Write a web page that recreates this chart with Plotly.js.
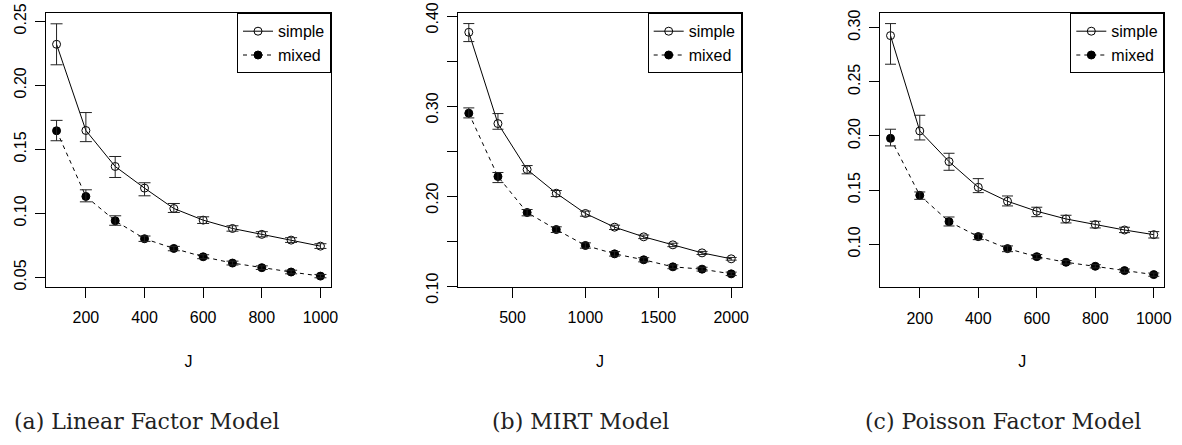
<!DOCTYPE html>
<html>
<head>
<meta charset="utf-8">
<script src="https://cdn.plot.ly/plotly-3.0.1.min.js"></script>
<style>html,body{margin:0;padding:0;background:#fff}#chart{width:1182px;height:445px}</style>
</head>
<body>
<div id="chart"></div>
<script>
// ---------- data ----------
const seriesNames = ["simple", "mixed"];
const captions = ["(a) Linear Factor Model", "(b) MIRT Model", "(c) Poisson Factor Model"];
const xLabel = "J";

const J_a = [100, 200, 300, 400, 500, 600, 700, 800, 900, 1000];
const simple_a = [0.232, 0.1647, 0.1366, 0.1197, 0.1038, 0.0947, 0.0882, 0.0836, 0.0791, 0.0744];
const simple_a_hi = [0.248, 0.1787, 0.1444, 0.1239, 0.1077, 0.0973, 0.0903, 0.0857, 0.081, 0.0763];
const simple_a_lo = [0.216, 0.156, 0.128, 0.1137, 0.1007, 0.0921, 0.0861, 0.0817, 0.0773, 0.0726];
const mixed_a = [0.1645, 0.1132, 0.0942, 0.0802, 0.0726, 0.0661, 0.0612, 0.0576, 0.0542, 0.051];
const mixed_a_hi = [0.1726, 0.1184, 0.0981, 0.0823, 0.0742, 0.0677, 0.0627, 0.059, 0.0556, 0.0523];
const mixed_a_lo = [0.1567, 0.109, 0.0907, 0.0781, 0.0708, 0.0646, 0.0597, 0.0562, 0.0528, 0.0497];

const J_b = [200, 400, 600, 800, 1000, 1200, 1400, 1600, 1800, 2000];
const simple_b = [0.3822, 0.2809, 0.2299, 0.2036, 0.1811, 0.1659, 0.1552, 0.1463, 0.1374, 0.1308];
const simple_b_hi = [0.3919, 0.292, 0.2343, 0.2066, 0.1837, 0.1681, 0.1572, 0.1481, 0.139, 0.1323];
const simple_b_lo = [0.3719, 0.2746, 0.2251, 0.1999, 0.1781, 0.1633, 0.1532, 0.1443, 0.1356, 0.1293];
const mixed_b = [0.2924, 0.2221, 0.1822, 0.1633, 0.1456, 0.1363, 0.1297, 0.1219, 0.1193, 0.1141];
const mixed_b_hi = [0.2983, 0.2266, 0.1855, 0.1663, 0.1485, 0.1388, 0.132, 0.124, 0.1214, 0.116];
const mixed_b_lo = [0.2872, 0.2154, 0.1785, 0.16, 0.1426, 0.1338, 0.1274, 0.1198, 0.1172, 0.1122];

const J_c = [100, 200, 300, 400, 500, 600, 700, 800, 900, 1000];
const simple_c = [0.2926, 0.2046, 0.1763, 0.1526, 0.1397, 0.1305, 0.1234, 0.1182, 0.1132, 0.1089];
const simple_c_hi = [0.3037, 0.2191, 0.184, 0.1606, 0.1446, 0.1342, 0.1268, 0.1212, 0.1157, 0.1117];
const simple_c_lo = [0.2662, 0.1963, 0.1683, 0.1477, 0.1354, 0.1255, 0.1197, 0.1151, 0.1108, 0.1058];
const mixed_c = [0.1978, 0.1452, 0.1209, 0.1071, 0.096, 0.0886, 0.0834, 0.0797, 0.0757, 0.072];
const mixed_c_hi = [0.2062, 0.1483, 0.1252, 0.1095, 0.0985, 0.0905, 0.085, 0.0812, 0.0772, 0.0735];
const mixed_c_lo = [0.1908, 0.1415, 0.1169, 0.1043, 0.0932, 0.0867, 0.0818, 0.0782, 0.0742, 0.0705];

const xTicks_a = [200, 400, 600, 800, 1000];
const xTicks_b = [500, 1000, 1500, 2000];
const xTicks_c = [200, 400, 600, 800, 1000];
const yTicks_a = [0.05, 0.10, 0.15, 0.20, 0.25];
const yTickText_a = ["0.05", "0.10", "0.15", "0.20", "0.25"];
const yTicks_b = [0.10, 0.15, 0.20, 0.25, 0.30, 0.35, 0.40];
const yTickText_b = ["0.10", "", "0.20", "", "0.30", "", "0.40"];
const yTicks_c = [0.10, 0.15, 0.20, 0.25, 0.30];
const yTickText_c = ["0.10", "0.15", "0.20", "0.25", "0.30"];

// ---------- layout geometry (pixels) ----------
const W = 1182, H = 445;
const panels = [
  {x: J_a, s: [simple_a, simple_a_lo, simple_a_hi], m: [mixed_a, mixed_a_lo, mixed_a_hi],
   px: [46, 331], py: [13.3, 287], xr: [64, 1036], yr: [0.0425, 0.2562],
   xt: xTicks_a, yt: yTicks_a, ytt: yTickText_a, cap: 6, capX: 146, yshift: 0},
  {x: J_b, s: [simple_b, simple_b_lo, simple_b_hi], m: [mixed_b, mixed_b_lo, mixed_b_hi],
   px: [458.3, 741.7], py: [13.3, 287], xr: [128, 2072], yr: [0.0995, 0.4033],
   xt: xTicks_b, yt: yTicks_b, ytt: yTickText_b, cap: 5.5, capX: 580, yshift: 4},
  {x: J_c, s: [simple_c, simple_c_lo, simple_c_hi], m: [mixed_c, mixed_c_lo, mixed_c_hi],
   px: [880, 1164.3], py: [13.3, 287.3], xr: [64, 1036], yr: [0.0603, 0.3132],
   xt: xTicks_c, yt: yTicks_c, ytt: yTickText_c, cap: 5.5, capX: 1002.6, yshift: 0}
];

const FONT = "Liberation Sans, Arial, Helvetica, sans-serif";
const traces = [];
const layout = {
  width: W, height: H, margin: {l: 0, r: 0, t: 0, b: 0},
  paper_bgcolor: "#fff", plot_bgcolor: "#fff", showlegend: true,
  font: {family: FONT, size: 16, color: "#000"},
  annotations: []
};

panels.forEach((p, i) => {
  const n = i + 1;
  const xa = n === 1 ? "x" : "x" + n, ya = n === 1 ? "y" : "y" + n;
  const lg = n === 1 ? "legend" : "legend" + n;
  const defs = [
    {name: seriesNames[0], d: p.s, dash: "solid", sym: "circle-open"},
    {name: seriesNames[1], d: p.m, dash: "4px,4px", sym: "circle"}
  ];
  defs.forEach(def => {
    const [mean, lo, hi] = def.d;
    traces.push({
      type: "scatter", mode: "lines+markers", x: p.x, y: mean, name: def.name,
      xaxis: xa, yaxis: ya, legend: lg,
      line: {color: "#000", width: 1, dash: def.dash},
      marker: {symbol: def.sym, size: 8, color: "#000", line: {color: "#000", width: 1}},
      hoverinfo: "skip"
    });
    traces.push({
      type: "scatter", mode: "markers", x: p.x, y: mean, showlegend: false,
      xaxis: xa, yaxis: ya, marker: {size: 1, opacity: 0},
      error_y: {type: "data", symmetric: false,
        array: hi.map((v, k) => v - mean[k]),
        arrayminus: mean.map((v, k) => v - lo[k]),
        color: "#222", thickness: 1, width: p.cap},
      hoverinfo: "skip"
    });
  });
  const axBase = {showline: true, mirror: true, linecolor: "#000", linewidth: 1,
    ticks: "outside", ticklen: 10, tickcolor: "#000", tickwidth: 1,
    showgrid: false, zeroline: false, ticklabeloverflow: "allow",
    tickfont: {family: FONT, size: 16, color: "#000"}};
  layout["xaxis" + (n === 1 ? "" : n)] = Object.assign({}, axBase, {
    domain: [p.px[0] / W, p.px[1] / W], anchor: ya, range: p.xr,
    tickmode: "array", tickvals: p.xt, ticktext: p.xt.map(String), ticklabelstandoff: 6,
    title: {text: xLabel, font: {family: FONT, size: 16, color: "#000"}, standoff: 30}
  });
  layout["yaxis" + (n === 1 ? "" : n)] = Object.assign({}, axBase, {
    domain: [1 - p.py[1] / H, 1 - p.py[0] / H], anchor: xa, range: p.yr,
    tickmode: "array", tickvals: p.yt, ticktext: p.ytt, tickangle: -90,
    ticklabelstandoff: 3, ticklabelshift: p.yshift
  });
  layout[lg] = {x: p.px[1] / W, y: 1 - p.py[0] / H, xanchor: "right", yanchor: "top",
    xref: "paper", yref: "paper",
    bordercolor: "#000", borderwidth: 1, bgcolor: "#fff",
    font: {family: FONT, size: 16, color: "#000"}, tracegroupgap: 0, itemwidth: 30};
  layout.annotations.push({text: captions[i], xref: "paper", yref: "paper",
    x: p.capX / W, y: 1 - 421 / H, xanchor: "center", yanchor: "middle", showarrow: false,
    font: {family: "DejaVu Serif, serif", size: 22, color: "#222"}});
});

Plotly.newPlot("chart", traces, layout, {staticPlot: true, displayModeBar: false});
</script>
</body>
</html>
